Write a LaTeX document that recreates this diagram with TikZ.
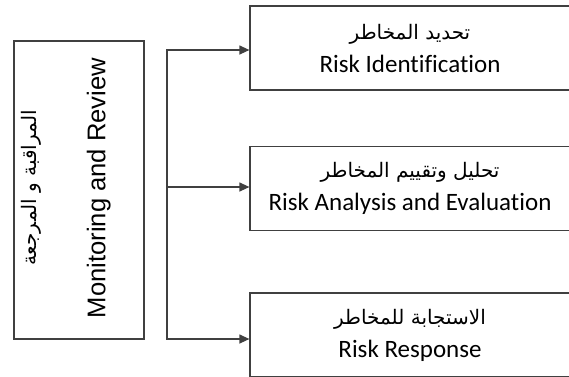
\documentclass[tikz,border=0pt]{standalone}
\usepackage{fontspec}
\setmainfont[Ligatures=NoCommon]{Carlito}
\newfontfamily\arabicfont[Script=Arabic]{DejaVu Sans}
\newfontfamily\arialfont{Liberation Sans}
\TeXXeTstate=1
\usetikzlibrary{arrows.meta}
\newcommand{\artext}[1]{{\arabicfont\fontsize{20}{24}\selectfont\beginR #1\endR}}

\begin{document}
\begin{tikzpicture}[x=1pt,y=-1pt,
  box/.style={draw=black!75,line width=1.2pt,minimum width=320pt,minimum height=84pt,inner sep=0pt,align=center,font=\fontsize{25}{33}\selectfont},
  link/.style={draw=black!75,line width=1.2pt},
  arr/.style={link,-{Triangle[length=10pt,width=9pt]}}]
\useasboundingbox (0,0) rectangle (569,376);

% Left: monitoring and review
\node[draw=black!75,line width=1.2pt,minimum width=130pt,minimum height=298pt,inner sep=0pt] (review) at (79,190) {};
\node[rotate=90,align=center,font=\arialfont\fontsize{25.6}{31}\selectfont] (reviewtext) at (66,188) {\artext{المراقبة و المرجعة}\\[38pt] Monitoring and Review};

% Right: risk steps
\node[box] (ident) at (410,48) {\artext{تحديد المخاطر}\\ Risk Identification};
\node[box] (analysis) at (410,188.5) {\artext{تحليل وتقييم المخاطر}\\ Risk Analysis and Evaluation};
\node[box] (response) at (410,335) {\artext{الاستجابة للمخاطر}\\ Risk Response};

% Connectors
\coordinate (top) at (167,50);
\coordinate (mid) at (167,187);
\coordinate (bot) at (167,339);
\draw[arr] (bot) -- (top) -- (top -| ident.west);
\draw[arr] (mid) -- (mid -| analysis.west);
\draw[arr] (top) -- (bot) -- (bot -| response.west);
\end{tikzpicture}
\end{document}
